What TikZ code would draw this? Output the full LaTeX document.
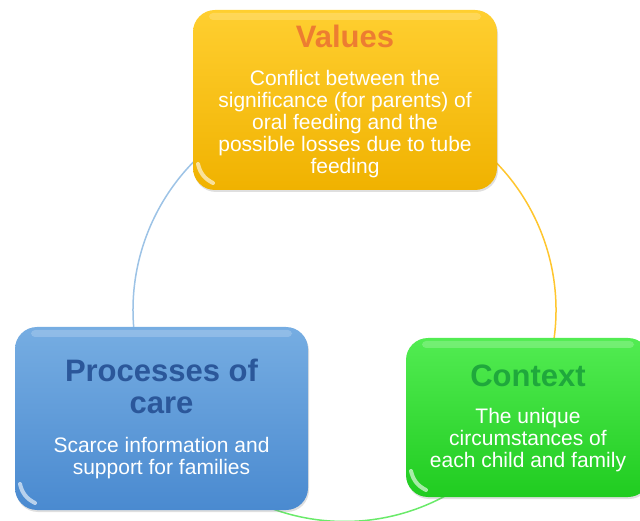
\documentclass[tikz,border=0pt]{standalone}
\usepackage{fontspec}
\setmainfont{Liberation Sans}
\usetikzlibrary{positioning,shadows}

\definecolor{valuesTop}{HTML}{FFCF30}
\definecolor{valuesBot}{HTML}{F0B200}
\definecolor{valuesHd}{HTML}{ED7D31}
\definecolor{careTop}{HTML}{76ADE2}
\definecolor{careBot}{HTML}{4A8AD0}
\definecolor{careHd}{HTML}{2B579A}
\definecolor{ctxTop}{HTML}{52EC52}
\definecolor{ctxBot}{HTML}{20CC20}
\definecolor{ctxHd}{HTML}{1FA83C}
\definecolor{arcBlue}{HTML}{9DC3E6}
\definecolor{arcGold}{HTML}{FFC62E}
\definecolor{arcGreen}{HTML}{6AEA6A}

\begin{document}
\begin{tikzpicture}[x=1pt,y=1pt,
    box/.style={rectangle, rounded corners=22pt, inner sep=0pt,
        drop shadow={opacity=0.25,shadow xshift=1pt,shadow yshift=-2pt},
        path picture={
            \fill[white,opacity=.2,rounded corners=4pt]
                ([xshift=16pt,yshift=-3pt]path picture bounding box.north west) rectangle
                ([xshift=-16pt,yshift=-10pt]path picture bounding box.north east);
            \draw[white,opacity=.6,line width=4pt,line cap=round]
                ([xshift=5pt,yshift=26pt]path picture bounding box.south west) to[bend right=25]
                ([xshift=20pt,yshift=7pt]path picture bounding box.south west);
        }},
    head/.style={inner sep=0pt, align=center, font=\fontsize{31}{32}\selectfont\bfseries},
    body/.style={inner sep=0pt, align=center, text=white, font=\fontsize{21}{22}\selectfont}]
    \clip (0,0) rectangle (640,520);

    % Cycle: one circle, drawn in three coloured parts behind the boxes
    \coordinate (hub) at (344.5,210);
    \begin{scope}[line width=1.5pt]
    \draw[arcBlue]  (hub) ++(120:211.5) arc (120:190:211.5);
    \draw[arcGold]  (hub) ++(60:211.5)  arc (60:-12:211.5);
    \draw[arcGreen] (hub) ++(230:211.5) arc (230:330:211.5);
    \end{scope}

    % Values
    \node[box, top color=valuesTop, bottom color=valuesBot, minimum width=304pt, minimum height=180pt] (values) at (345,420) {};
    \node[head, text=valuesHd, below=15.4pt of values.north] (valuesHead) {Values};
    \node[body, below=22pt of valuesHead] (valuesText) {Conflict between the\\significance (for parents) of\\oral feeding and the\\possible losses due to tube\\feeding};

    % Processes of care
    \node[box, top color=careTop, bottom color=careBot, minimum width=293pt, minimum height=183pt] (care) at (161.5,101.5) {};
    \node[head, text=careHd, below=32.4pt of care.north] (careHead) {Processes of\\care};
    \node[body, below=23pt of careHead] (careText) {Scarce information and\\support for families};

    % Context
    \node[box, top color=ctxTop, bottom color=ctxBot, minimum width=244pt, minimum height=159pt] (context) at (528,102.5) {};
    \node[head, text=ctxHd, below=26.4pt of context.north] (contextHead) {Context};
    \node[body, below=22pt of contextHead] (contextText) {The unique\\circumstances of\\each child and family};
\end{tikzpicture}
\end{document}
